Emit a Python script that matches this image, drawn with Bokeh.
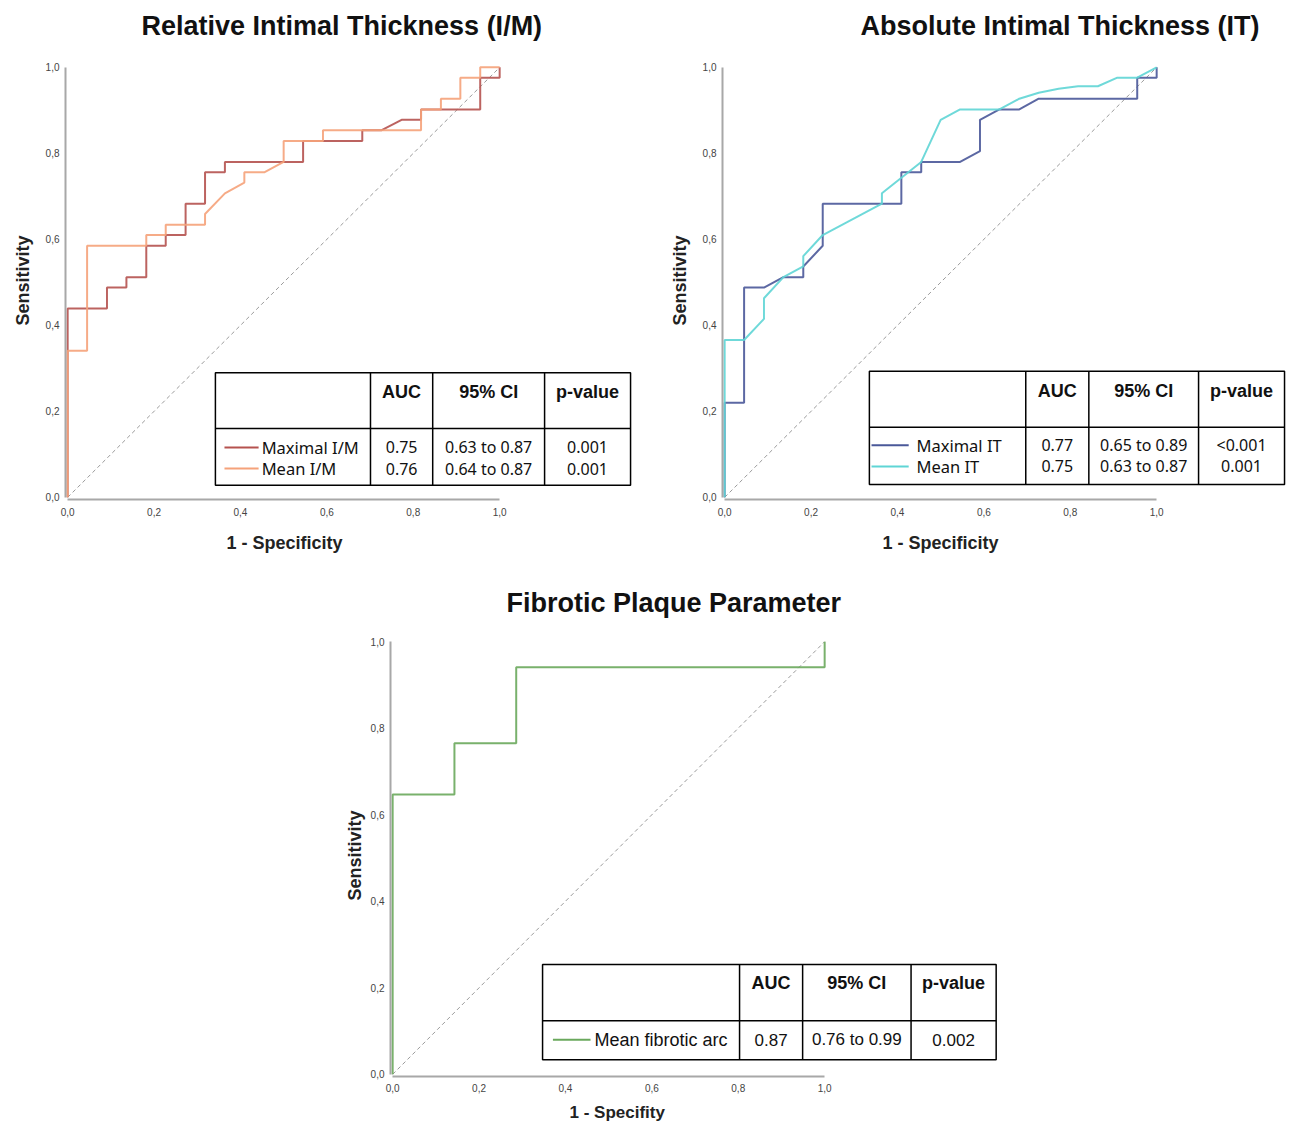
from bokeh.plotting import figure
from bokeh.models import Range1d, FixedTicker, CustomJSTickFormatter, Title
from bokeh.layouts import column, row
from bokeh.embed import file_html
from bokeh.resources import INLINE
from bokeh.core.properties import value

# ---------------- data ----------------
im_max_fpr = [0, 0, 0.091, 0.091, 0.136, 0.136, 0.182, 0.182, 0.227, 0.227, 0.273, 0.273,
              0.318, 0.318, 0.364, 0.364, 0.545, 0.545, 0.682, 0.682, 0.727, 0.773, 0.818,
              0.818, 0.955, 0.955, 1.0, 1.0]
im_max_tpr = [0, 0.439, 0.439, 0.488, 0.488, 0.512, 0.512, 0.585, 0.585, 0.610, 0.610, 0.683,
              0.683, 0.756, 0.756, 0.780, 0.780, 0.829, 0.829, 0.854, 0.854, 0.878, 0.878,
              0.902, 0.902, 0.976, 0.976, 1.0]
im_mean_fpr = [0, 0, 0.045, 0.045, 0.182, 0.182, 0.227, 0.227, 0.318, 0.318, 0.364, 0.409,
               0.409, 0.455, 0.500, 0.500, 0.591, 0.591, 0.818, 0.818, 0.864, 0.864, 0.909,
               0.909, 0.955, 0.955, 1.0]
im_mean_tpr = [0, 0.341, 0.341, 0.585, 0.585, 0.610, 0.610, 0.634, 0.634, 0.659, 0.707, 0.732,
               0.756, 0.756, 0.780, 0.829, 0.829, 0.854, 0.854, 0.902, 0.902, 0.927, 0.927,
               0.976, 0.976, 1.0, 1.0]

it_max_fpr = [0, 0, 0.045, 0.045, 0.091, 0.136, 0.182, 0.182, 0.227, 0.227, 0.409, 0.409,
              0.455, 0.455, 0.545, 0.591, 0.591, 0.636, 0.682, 0.727, 0.955, 0.955, 1.0, 1.0]
it_max_tpr = [0, 0.220, 0.220, 0.488, 0.488, 0.512, 0.512, 0.537, 0.585, 0.683, 0.683, 0.756,
              0.756, 0.780, 0.780, 0.805, 0.878, 0.902, 0.902, 0.927, 0.927, 0.976, 0.976, 1.0]
it_mean_fpr = [0, 0, 0.045, 0.091, 0.091, 0.136, 0.182, 0.182, 0.227, 0.364, 0.364, 0.455,
               0.500, 0.545, 0.636, 0.682, 0.727, 0.773, 0.818, 0.864, 0.909, 0.955, 1.0]
it_mean_tpr = [0, 0.366, 0.366, 0.415, 0.463, 0.512, 0.537, 0.561, 0.610, 0.683, 0.707, 0.780,
               0.878, 0.902, 0.902, 0.927, 0.941, 0.950, 0.956, 0.956, 0.976, 0.976, 1.0]

fib_fpr = [0, 0, 0.143, 0.143, 0.286, 0.286, 1.0, 1.0]
fib_tpr = [0, 0.647, 0.647, 0.765, 0.765, 0.941, 0.941, 1.0]

diag = [0, 1]
tick_values = [0, 0.2, 0.4, 0.6, 0.8, 1.0]

table_header = ["AUC", "95% CI", "p-value"]
im_names = ["Maximal I/M", "Mean I/M"]
im_auc = ["0.75", "0.76"]
im_ci = ["0.63 to 0.87", "0.64 to 0.87"]
im_p = ["0.001", "0.001"]
it_names = ["Maximal IT", "Mean IT"]
it_auc = ["0.77", "0.75"]
it_ci = ["0.65 to 0.89", "0.63 to 0.87"]
it_p = ["<0.001", "0.001"]
fib_names = ["Mean fibrotic arc"]
fib_auc = ["0.87"]
fib_ci = ["0.76 to 0.99"]
fib_p = ["0.002"]

C_IM_MAX = "#b5524f"
C_IM_MEAN = "#f5a27a"
C_IT_MAX = "#4a5899"
C_IT_MEAN = "#5fd5d5"
C_FIB = "#6aa85c"

PAD = 0.005
PX = 432.0
FONT = "Liberation Sans"


def make_fig(width, height, bl, br, bt, bb, frame_w, frame_h, py, x_standoff):
    p = figure(width=width, height=height,
               min_border_left=bl, min_border_right=br,
               min_border_top=bt, min_border_bottom=bb,
               x_range=Range1d(-PAD, -PAD + frame_w / PX),
               y_range=Range1d(-PAD, -PAD + frame_h / py),
               output_backend="svg", toolbar_location=None)
    p.outline_line_color = None
    p.grid.visible = False
    p.background_fill_color = "white"
    p.border_fill_color = "white"
    fmt = CustomJSTickFormatter(code="return tick.toFixed(1).replace('.', ',');")
    for ax in (p.xaxis[0], p.yaxis[0]):
        ax.bounds = (0, 1)
        ax.ticker = FixedTicker(ticks=tick_values)
        ax.formatter = fmt
        ax.axis_line_color = "#a8a8a8"
        ax.axis_line_width = 2
        ax.major_tick_line_color = None
        ax.minor_tick_line_color = None
        ax.major_tick_out = 0
        ax.major_tick_in = 0
        ax.minor_tick_out = 0
        ax.minor_tick_in = 0
        ax.major_label_text_font = FONT
        ax.major_label_text_font_size = "10px"
        ax.major_label_text_color = "#444444"
    p.xaxis[0].major_label_standoff = x_standoff
    p.yaxis[0].major_label_standoff = 6
    p.line(diag, diag, line_color="#9a9a9a", line_width=1, line_dash="4 3")
    return p


def add_texts(p, title, t_off, xlabel, x_off, x_stand, x_size, y_off, y_stand):
    p.title.text = title
    p.title.text_font = FONT
    p.title.text_font_size = "27px"
    p.title.text_font_style = "bold"
    p.title.text_color = "#111111"
    p.title.align = "left"
    p.title.offset = t_off
    p.title.standoff = 10
    p.add_layout(Title(text=xlabel, align="left", offset=x_off, standoff=x_stand,
                       text_font=FONT, text_font_size=x_size, text_font_style="bold",
                       text_color="#222222"), "below")
    p.add_layout(Title(text="Sensitivity", align="left", offset=y_off, standoff=y_stand,
                       text_font=FONT, text_font_size="18px", text_font_style="bold",
                       text_color="#222222"), "left")


def draw_table(p, geo, names, colors, auc, ci, pv, body_font, body_size, name_size):
    xs = geo["cols"]
    left, right = xs[0], xs[-1]
    top, mid, bot = geo["top"], geo["mid"], geo["bot"]
    p.quad(left=[left], right=[right], bottom=[bot], top=[top],
           fill_color="white", line_color="black", line_width=1.5)
    p.segment(x0=xs[1:-1], y0=[bot] * (len(xs) - 2), x1=xs[1:-1], y1=[top] * (len(xs) - 2),
              line_color="black", line_width=1.5)
    p.segment(x0=[left], y0=[mid], x1=[right], y1=[mid], line_color="black", line_width=1.5)
    centers = [(xs[i] + xs[i + 1]) / 2 for i in range(1, len(xs) - 1)]
    p.text(x=centers, y=[geo["head_y"]] * 3, text=table_header,
           text_font=value(FONT), text_font_style="bold", text_font_size="18px",
           text_align="center", text_baseline="top", text_color="#111111")
    rows = geo["rows"]
    for i, name in enumerate(names):
        y = rows[i]
        p.segment(x0=[geo["leg_x0"]], y0=[y], x1=[geo["leg_x1"]], y1=[y],
                  line_color=colors[i], line_width=2)
        p.text(x=[geo["name_x"]], y=[y], text=[name], text_font=value(body_font),
               text_font_size=name_size, text_align="left", text_baseline="middle",
               text_color="#111111")
        p.text(x=centers, y=[y] * 3, text=[auc[i], ci[i], pv[i]], text_font=value(body_font),
               text_font_size=body_size, text_align="center", text_baseline="middle",
               text_color="#111111")


# ---------------- panel 1 ----------------
p1 = make_fig(656, 565, 65, 14, 45, 66, 577, 454, 430.0, 8)
p1.line(im_max_fpr, im_max_tpr, line_color=C_IM_MAX, line_width=2, line_alpha=0.9)
p1.line(im_mean_fpr, im_mean_tpr, line_color=C_IM_MEAN, line_width=2, line_alpha=0.9)
geo1 = dict(cols=[0.342, 0.701, 0.845, 1.104, 1.303], top=0.290, mid=0.160, bot=0.028,
            head_y=0.268, rows=[0.116, 0.067], leg_x0=0.363, leg_x1=0.442, name_x=0.449)
draw_table(p1, geo1, im_names, [C_IM_MAX, C_IM_MEAN], im_auc, im_ci, im_p,
           "Noto Sans", "16px", "16.5px")
add_texts(p1, "Relative Intimal Thickness (I/M)", 76, "1 - Specificity", 161, 24, "18px", 174, 19)

# ---------------- panel 2 ----------------
p2 = make_fig(635, 565, 66, 2, 45, 66, 567, 454, 430.0, 8)
p2.line(it_max_fpr, it_max_tpr, line_color=C_IT_MAX, line_width=2, line_alpha=0.9)
p2.line(it_mean_fpr, it_mean_tpr, line_color=C_IT_MEAN, line_width=2, line_alpha=0.9)
geo2 = dict(cols=[0.335, 0.697, 0.843, 1.097, 1.296], top=0.293, mid=0.163, bot=0.030,
            head_y=0.271, rows=[0.121, 0.072], leg_x0=0.340, leg_x1=0.426, name_x=0.444)
draw_table(p2, geo2, it_names, [C_IT_MAX, C_IT_MEAN], it_auc, it_ci, it_p,
           "Noto Sans", "16px", "16.5px")
add_texts(p2, "Absolute Intimal Thickness (IT)", 138, "1 - Specificity", 160, 24, "18px", 174, 19)

# ---------------- panel 3 ----------------
p3 = make_fig(1010, 563, 390, 6, 57, 52, 614, 454, 432.67, 7)
p3.line(fib_fpr, fib_tpr, line_color=C_FIB, line_width=2, line_alpha=0.9)
geo3 = dict(cols=[0.347, 0.803, 0.949, 1.200, 1.397], top=0.254, mid=0.124, bot=0.034,
            head_y=0.235, rows=[0.080], leg_x0=0.371, leg_x1=0.458, name_x=0.467)
draw_table(p3, geo3, fib_names, [C_FIB], fib_auc, fib_ci, fib_p, FONT, "17px", "18px")
add_texts(p3, "Fibrotic Plaque Parameter", 116, "1 - Specifity", 179, 12, "17px", 176, 6)

layout = column(row(p1, p2), p3)
open("out.html", "w").write(file_html(layout, INLINE))
